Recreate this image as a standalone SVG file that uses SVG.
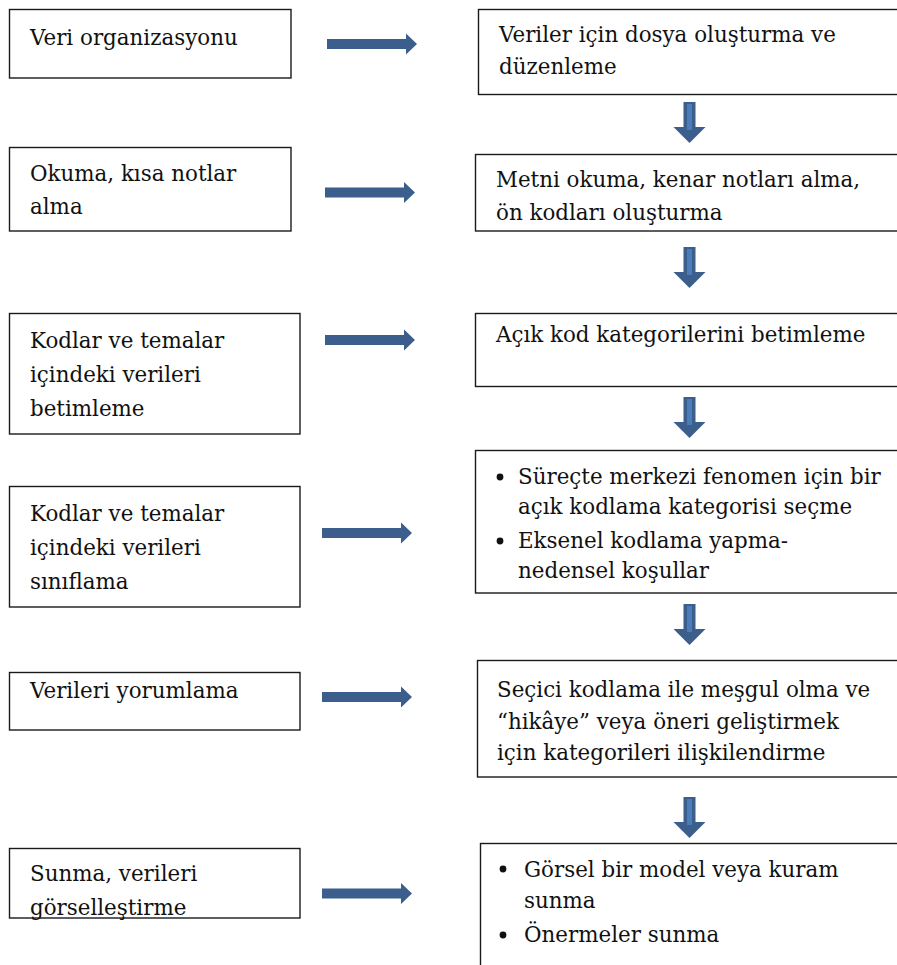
<svg xmlns="http://www.w3.org/2000/svg" width="897" height="965" viewBox="0 0 897 965">
  <defs>
    <style>
      .box { fill: #ffffff; stroke: #1a1a1a; stroke-width: 1.4; }
      text { font-family: 'DejaVu Serif', 'Liberation Serif', serif; font-size: 21.4px; fill: #111111; }
      .ar { fill: #3b5e8c; }
      .hl { fill: #4b7bb9; }
    </style>
    <!-- right-pointing block arrow, origin at shaft start / centre line -->
    <path id="rightArrow" d="M0,-5 L79,-5 L79,-10.5 L90,0 L79,10.5 L79,5 L0,5 Z"/>
    <!-- down-pointing block arrow, origin at top / centre line -->
    <g id="downArrow">
      <path d="M-6,0 L6,0 L6,25 L16,25 L0,41 L-16,25 L-6,25 Z"/>
      <rect class="hl" x="-2.5" y="2" width="5" height="26"/>
    </g>
  </defs>

  <rect width="897" height="965" fill="#ffffff"/>

  <!-- left column: stages -->
  <g id="stage-1">
    <rect class="box" x="9.5" y="9.5" width="281.5" height="68.5"/>
    <text x="30" y="45">Veri organizasyonu</text>
  </g>
  <g id="stage-2">
    <rect class="box" x="9.5" y="147.5" width="281.5" height="83.5"/>
    <text x="30" y="181">Okuma, kısa notlar</text>
    <text x="30" y="214">alma</text>
  </g>
  <g id="stage-3">
    <rect class="box" x="9.5" y="313.5" width="290.5" height="120.5"/>
    <text x="30" y="348">Kodlar ve temalar</text>
    <text x="30" y="382">içindeki verileri</text>
    <text x="30" y="416">betimleme</text>
  </g>
  <g id="stage-4">
    <rect class="box" x="9.5" y="486.5" width="290.5" height="120.5"/>
    <text x="30" y="521">Kodlar ve temalar</text>
    <text x="30" y="555">içindeki verileri</text>
    <text x="30" y="589">sınıflama</text>
  </g>
  <g id="stage-5">
    <rect class="box" x="9.5" y="672.5" width="290.5" height="57.5"/>
    <text x="30" y="698">Verileri yorumlama</text>
  </g>
  <g id="stage-6">
    <rect class="box" x="9.5" y="848.5" width="290.5" height="69.5"/>
    <text x="30" y="881">Sunma, verileri</text>
    <text x="30" y="915">görselleştirme</text>
  </g>

  <!-- right column: activities (boxes run past the right edge) -->
  <g id="activity-1">
    <rect class="box" x="478.5" y="9.5" width="430" height="85"/>
    <text x="499" y="42">Veriler için dosya oluşturma ve</text>
    <text x="499" y="74">düzenleme</text>
  </g>
  <g id="activity-2">
    <rect class="box" x="475.5" y="154.5" width="430" height="76.5"/>
    <text x="496" y="187">Metni okuma, kenar notları alma,</text>
    <text x="496" y="220">ön kodları oluşturma</text>
  </g>
  <g id="activity-3">
    <rect class="box" x="475.5" y="313.5" width="430" height="73"/>
    <text x="496" y="342">Açık kod kategorilerini betimleme</text>
  </g>
  <g id="activity-4">
    <rect class="box" x="475.5" y="450.5" width="430" height="142.5"/>
    <circle cx="500" cy="477" r="3.4" fill="#111111"/>
    <text x="518" y="484">Süreçte merkezi fenomen için bir</text>
    <text x="518" y="514">açık kodlama kategorisi seçme</text>
    <circle cx="500" cy="541" r="3.4" fill="#111111"/>
    <text x="518" y="548">Eksenel kodlama yapma-</text>
    <text x="518" y="578">nedensel koşullar</text>
  </g>
  <g id="activity-5">
    <rect class="box" x="477.5" y="660.5" width="430" height="116.5"/>
    <text x="497" y="697">Seçici kodlama ile meşgul olma ve</text>
    <text x="497" y="729">“hikâye” veya öneri geliştirmek</text>
    <text x="497" y="760">için kategorileri ilişkilendirme</text>
  </g>
  <g id="activity-6">
    <rect class="box" x="480.5" y="843.5" width="430" height="140"/>
    <circle cx="503" cy="869" r="3.4" fill="#111111"/>
    <text x="524" y="877">Görsel bir model veya kuram</text>
    <text x="524" y="908">sunma</text>
    <circle cx="503" cy="935" r="3.4" fill="#111111"/>
    <text x="524" y="942">Önermeler sunma</text>
  </g>

  <!-- connectors -->
  <g id="connectors" class="ar">
    <use href="#rightArrow" x="327" y="44"/>
    <use href="#rightArrow" x="325" y="192.5"/>
    <use href="#rightArrow" x="325" y="340"/>
    <use href="#rightArrow" x="322" y="533"/>
    <use href="#rightArrow" x="322" y="697"/>
    <use href="#rightArrow" x="322" y="893.5"/>

    <use href="#downArrow" x="689.5" y="102"/>
    <use href="#downArrow" x="689.5" y="247"/>
    <use href="#downArrow" x="689.5" y="397"/>
    <use href="#downArrow" x="689.5" y="604"/>
    <use href="#downArrow" x="689.5" y="797"/>
  </g>
</svg>
